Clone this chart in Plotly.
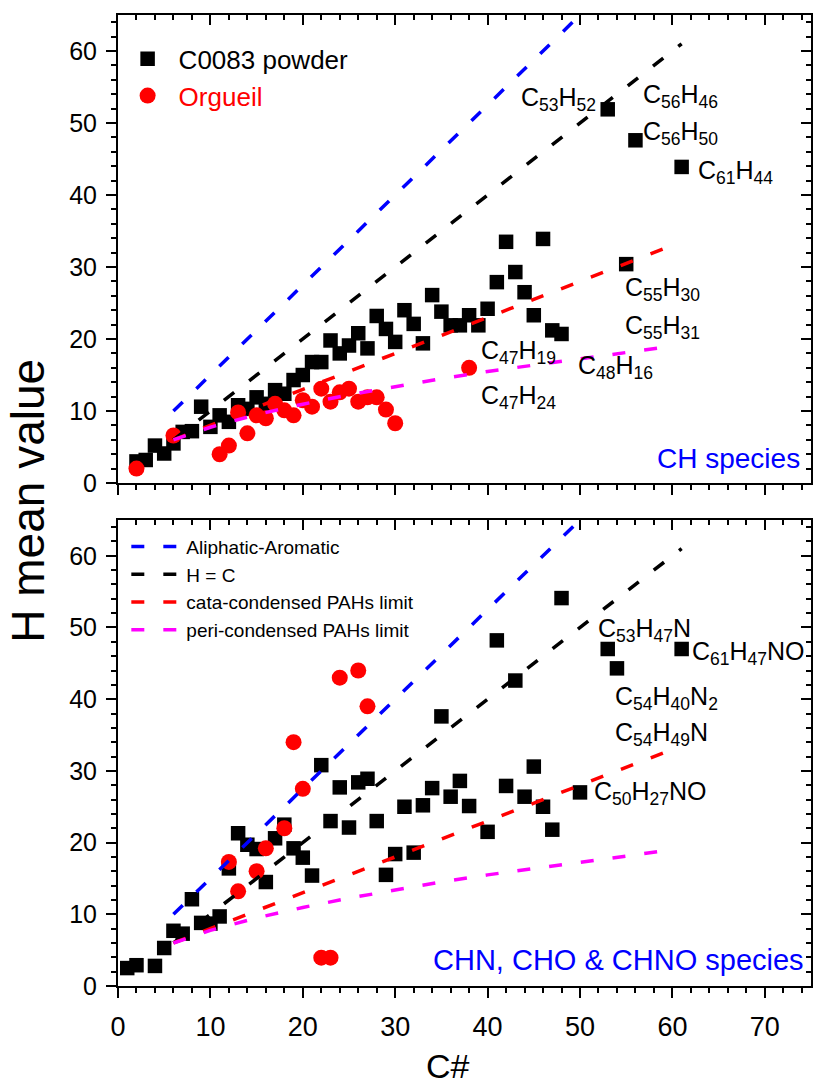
import plotly.graph_objects as go

# ---------------- data ----------------
# Top panel (CH species)
ch_powder_c = [2, 3, 4, 5, 6, 7, 8, 9, 10, 11, 12, 13, 14, 15, 16, 17, 18, 19, 20, 21, 22, 23, 24, 25,
               26, 27, 28, 29, 30, 31, 32, 33, 34, 35, 36, 37, 38, 39, 40, 41, 42, 43, 44, 45, 46, 47, 48,
               53, 55, 56, 61]
ch_powder_h = [3.0, 3.2, 5.2, 4.1, 5.5, 7.1, 7.2, 10.6, 7.8, 9.4, 8.5, 10.8, 10.3, 11.9, 11.0, 12.9, 12.4,
               14.3, 15.0, 16.8, 16.8, 19.8, 18.0, 19.1, 20.8, 18.7, 23.2, 21.4, 19.6, 24.0, 22.1, 19.4,
               26.1, 23.8, 21.9, 21.9, 23.3, 21.9, 24.2, 27.9, 33.5, 29.3, 26.5, 23.3, 33.9, 21.2, 20.7,
               51.9, 30.4, 47.6, 43.9]
ch_orgueil_c = [2, 6, 11, 12, 13, 14, 15, 16, 17, 18, 19, 20, 21, 22, 23, 24, 25, 26, 27, 28, 29, 30, 38]
ch_orgueil_h = [2.0, 6.6, 4.0, 5.2, 9.8, 6.9, 9.4, 9.0, 11.0, 10.1, 9.4, 11.5, 10.6, 13.1, 11.3, 12.6,
                13.1, 11.3, 11.9, 11.9, 10.2, 8.3, 16.0]

# Bottom panel (CHN, CHO & CHNO species)
chno_powder_c = [1, 2, 4, 5, 6, 7, 8, 9, 10, 11, 12, 13, 14, 15, 16, 17, 18, 19, 20, 21, 22, 23, 24, 25,
                 26, 27, 28, 29, 30, 31, 32, 33, 34, 35, 36, 37, 38, 40, 41, 42, 43, 44, 45, 46, 47, 48,
                 50, 53, 54, 61]
chno_powder_h = [2.5, 2.9, 2.8, 5.3, 7.7, 7.3, 12.1, 8.8, 8.7, 9.7, 16.4, 21.3, 19.7, 19.1, 14.5, 20.6,
                 22.5, 19.2, 17.9, 15.4, 30.8, 23.0, 27.7, 22.1, 28.4, 28.9, 23.0, 15.5, 18.4, 25.0, 18.6,
                 25.2, 27.6, 37.6, 26.4, 28.6, 25.1, 21.5, 48.2, 27.9, 42.6, 26.4, 30.6, 25.0, 21.8, 54.1,
                 27.0, 47.0, 44.3, 47.0]
chno_orgueil_c = [12, 13, 15, 16, 18, 19, 20, 22, 23, 24, 26, 27]
chno_orgueil_h = [17.3, 13.2, 16.0, 19.2, 22.0, 34.0, 27.5, 3.95, 3.95, 43.0, 44.0, 39.0]

# Reference lines
aliph_c = [6, 61]
aliph_h = [10, 78.75]
hc_c = [6, 61]
hc_h = [6, 61]
cata_c = [6, 60]
cata_h = [6, 33]
peri_c = [6, 10, 15, 20, 25, 30, 35, 40, 45, 50, 55, 60]
peri_h = [6.0, 7.75, 9.5, 10.95, 12.25, 13.4, 14.5, 15.5, 16.4, 17.3, 18.2, 19.0]

# Formula labels
top_labels = ["C<sub>53</sub>H<sub>52</sub>", "C<sub>56</sub>H<sub>46</sub>", "C<sub>56</sub>H<sub>50</sub>",
              "C<sub>61</sub>H<sub>44</sub>", "C<sub>55</sub>H<sub>30</sub>", "C<sub>55</sub>H<sub>31</sub>",
              "C<sub>47</sub>H<sub>19</sub>", "C<sub>48</sub>H<sub>16</sub>", "C<sub>47</sub>H<sub>24</sub>"]
top_label_c = [47.7, 60.9, 60.9, 66.8, 58.9, 58.9, 43.3, 53.8, 43.3]
top_label_h = [53.4, 53.8, 48.6, 43.2, 27.0, 21.7, 18.2, 16.1, 11.9]

bot_labels = ["C<sub>53</sub>H<sub>47</sub>N", "C<sub>61</sub>H<sub>47</sub>NO", "C<sub>54</sub>H<sub>40</sub>N<sub>2</sub>",
              "C<sub>54</sub>H<sub>49</sub>N", "C<sub>50</sub>H<sub>27</sub>NO"]
bot_label_c = [57.0, 68.2, 59.4, 58.8, 57.6]
bot_label_h = [49.7, 46.4, 40.1, 35.2, 26.9]

FONT = "Arial, Liberation Sans, Helvetica, sans-serif"
NARROW = "Liberation Sans Narrow, Arial Narrow, " + FONT
DASH = "13px,19px"

fig = go.Figure()

def markers(c, h, xa, ya, name, symbol, color, size, show):
    fig.add_trace(go.Scatter(x=c, y=h, xaxis=xa, yaxis=ya, mode="markers", name=name,
                             marker=dict(symbol=symbol, color=color, size=size, line=dict(width=0)),
                             showlegend=show, legend="legend", hoverinfo="skip"))

markers(ch_powder_c, ch_powder_h, "x", "y", "C0083 powder", "square", "black", 14.5, True)
markers(ch_orgueil_c, ch_orgueil_h, "x", "y", '<span style="color:#FF0000">Orgueil</span>', "circle", "#FF0000", 16, True)
markers(chno_powder_c, chno_powder_h, "x2", "y2", "C0083 powder", "square", "black", 14.5, False)
markers(chno_orgueil_c, chno_orgueil_h, "x2", "y2", "Orgueil", "circle", "#FF0000", 16, False)

line_specs = [
    (aliph_c, aliph_h, "#0000FF", "Aliphatic-Aromatic"),
    (hc_c, hc_h, "black", "H = C"),
    (cata_c, cata_h, "#FF0000", "cata-condensed PAHs limit"),
    (peri_c, peri_h, "#FF00FF", "peri-condensed PAHs limit"),
]
for xa, ya, show in [("x", "y", False), ("x2", "y2", True)]:
    for c, h, col, nm in line_specs:
        fig.add_trace(go.Scatter(x=c, y=h, xaxis=xa, yaxis=ya, mode="lines", name=nm,
                                 line=dict(color=col, width=3.5, dash=DASH),
                                 showlegend=show, legend="legend2", hoverinfo="skip"))

# dummy traces to activate the mirror (inside-tick) axes
for xa, ya in [("x3", "y3"), ("x4", "y4")]:
    fig.add_trace(go.Scatter(x=[None], y=[None], xaxis=xa, yaxis=ya, showlegend=False,
                             hoverinfo="skip", mode="markers"))

common = dict(showgrid=False, zeroline=False, showline=True, linecolor="black", linewidth=2,
              tickcolor="black", tickwidth=2, ticklen=10, dtick=10, tick0=0)
xr = [0, 75]
yr = [0, 65]
minor_out = dict(ticks="outside", ticklen=5, tickwidth=2, tickcolor="black", dtick=2, showgrid=False)
minor_in = dict(ticks="inside", ticklen=5, tickwidth=2, tickcolor="black", dtick=2, showgrid=False)

tickfont_x = dict(family=NARROW, size=27, color="black")
tickfont_y = dict(family=FONT, size=25, color="black")

top_dom = [0.518, 1.0]
bot_dom = [0.0, 0.48]

fig.update_layout(
    width=814, height=1088,
    margin=dict(l=118, r=1, t=15, b=102),
    paper_bgcolor="white", plot_bgcolor="white",
    font=dict(family=FONT, color="black"),
    xaxis=dict(**common, range=xr, domain=[0, 1], anchor="y", ticks="outside", mirror=True,
               showticklabels=False, minor=minor_out),
    yaxis=dict(**common, range=yr, domain=top_dom, anchor="x", ticks="outside", mirror=True,
               tickfont=tickfont_y, ticklabelstandoff=4, minor=minor_out),
    xaxis2=dict(**common, range=xr, domain=[0, 1], anchor="y2", ticks="outside", mirror=True,
                tickfont=tickfont_x, ticklabelstandoff=6, minor=minor_out),
    yaxis2=dict(**common, range=yr, domain=bot_dom, anchor="x2", ticks="outside", mirror=True,
                tickfont=tickfont_y, ticklabelstandoff=4, minor=minor_out),
    xaxis3=dict(**common, range=xr, overlaying="x", side="top", anchor="y", ticks="inside",
                showticklabels=False, minor=minor_in),
    yaxis3=dict(**common, range=yr, overlaying="y", side="right", anchor="x", ticks="inside",
                showticklabels=False, minor=minor_in),
    xaxis4=dict(**common, range=xr, overlaying="x2", side="top", anchor="y2", ticks="inside",
                showticklabels=False, minor=minor_in),
    yaxis4=dict(**common, range=yr, overlaying="y2", side="right", anchor="x2", ticks="inside",
                showticklabels=False, minor=minor_in),
    legend=dict(x=-0.002, y=0.979, xanchor="left", yanchor="top", bgcolor="rgba(0,0,0,0)",
                font=dict(family=FONT, size=26, color="black"), itemwidth=52, tracegroupgap=0),
    legend2=dict(x=0.012, y=0.472, xanchor="left", yanchor="top", bgcolor="rgba(0,0,0,0)",
                 font=dict(family=FONT, size=19, color="black"), itemwidth=50, tracegroupgap=0),
)

ann = []
for t, c, h in zip(top_labels, top_label_c, top_label_h):
    ann.append(dict(text=t, x=c, y=h, xref="x", yref="y", showarrow=False,
                    font=dict(family=FONT, size=25, color="black")))
for t, c, h in zip(bot_labels, bot_label_c, bot_label_h):
    ann.append(dict(text=t, x=c, y=h, xref="x2", yref="y2", showarrow=False,
                    font=dict(family=FONT, size=25, color="black")))
ann.append(dict(text="CH species", x=0.987, y=0.525, xref="paper", yref="paper", xanchor="right",
                yanchor="bottom", showarrow=False, font=dict(family=FONT, size=28, color="#0000FF")))
ann.append(dict(text="CHN, CHO & CHNO species", x=0.993, y=0.008, xref="paper", yref="paper",
                xanchor="right", yanchor="bottom", showarrow=False,
                font=dict(family=FONT, size=29, color="#0000FF")))
ann.append(dict(text="H mean value", x=-0.131, y=0.5, xref="paper", yref="paper", textangle=-90,
                showarrow=False, xanchor="center", yanchor="middle",
                font=dict(family=FONT, size=46, color="black")))
ann.append(dict(text="C#", x=0.476, y=-0.082, xref="paper", yref="paper", showarrow=False,
                xanchor="center", yanchor="middle",
                font=dict(family=NARROW, size=34, color="black")))
fig.update_layout(annotations=ann)

fig.write_html("out.html", config={"displayModeBar": False},
               post_script="document.body.style.margin='0px';")
